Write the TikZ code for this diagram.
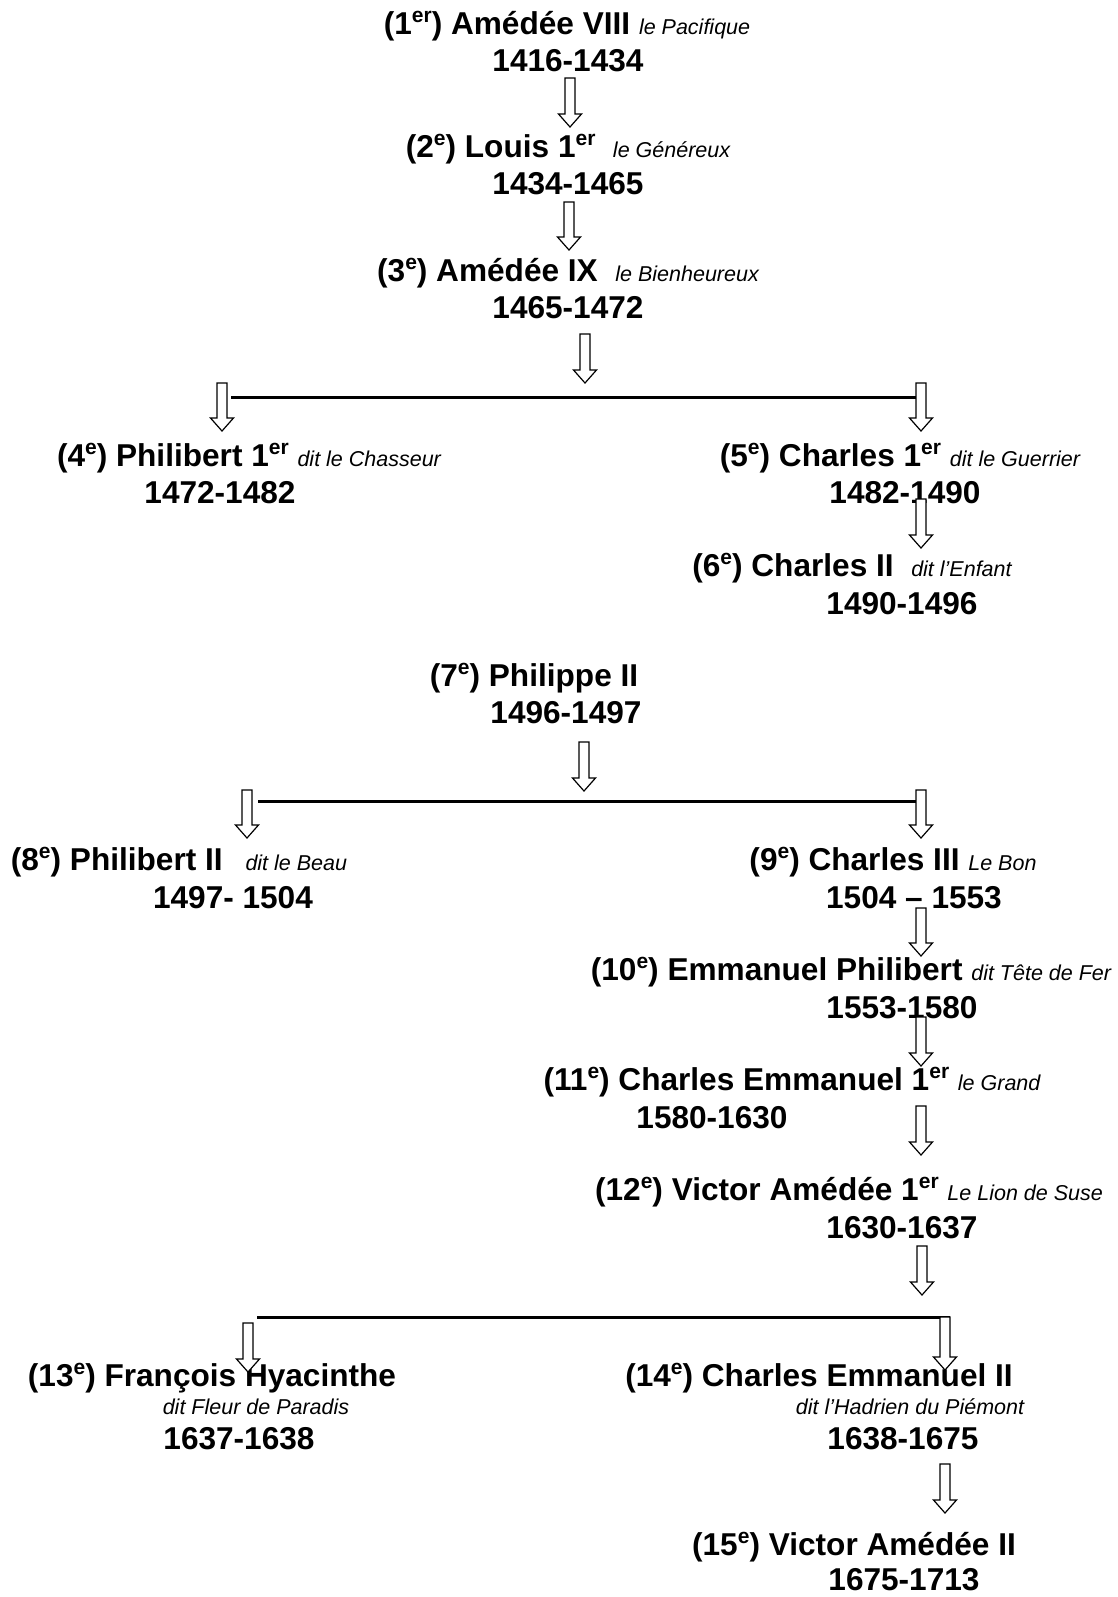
\documentclass[tikz,border=0pt]{standalone}
\usepackage{fontspec}
\setmainfont{Liberation Sans}

% superscript ordinals and the italic nicknames
\newcommand\ord[1]{\raisebox{6pt}{\fontsize{10.5}{12}\selectfont #1}}
\newcommand\surnom[1]{{\mdseries\itshape\fontsize{10.75}{12}\selectfont #1}}

% hollow block arrow from #1 down to #2
\newcommand\blockarrow[2]{%
  \draw[fleche] ([xshift=-2.5pt]#1) -- ([xshift=2.5pt]#1)
    -- ([xshift=2.5pt,yshift=6.5pt]#2) -- ([xshift=5.75pt,yshift=6.5pt]#2)
    -- (#2) -- ([xshift=-5.75pt,yshift=6.5pt]#2)
    -- ([xshift=-2.5pt,yshift=6.5pt]#2) -- cycle;}

\tikzset{
  roi/.style={font=\bfseries\fontsize{15.8}{18}\selectfont, anchor=base, inner sep=0pt},
  dit/.style={font=\itshape\fontsize{10.75}{12}\selectfont, anchor=base, inner sep=0pt},
  trait/.style={line width=1.5pt},
  fleche/.style={draw=black, fill=white, line width=0.6pt, line join=miter}
}

\begin{document}
\begin{tikzpicture}[x=0.5pt, y=-0.5pt]
  \useasboundingbox (0,0) rectangle (1118,1597);

  % Dukes: name line, then reign
  \node[roi] (r1) at (567,34) {(1\ord{er}) Amédée VIII \surnom{le Pacifique}};
  \node[roi] (d1) at (568,71) {1416-1434};
  \node[roi] (r2) at (568,157) {(2\ord{e}) Louis 1\ord{er}\ \ \surnom{le Généreux}};
  \node[roi] (d2) at (568,194) {1434-1465};
  \node[roi] (r3) at (568,281) {(3\ord{e}) Amédée IX\ \ \surnom{le Bienheureux}};
  \node[roi] (d3) at (568,318) {1465-1472};

  \node[roi] (r4) at (249,466) {(4\ord{e}) Philibert 1\ord{er} \surnom{dit le Chasseur}};
  \node[roi] (d4) at (220,503) {1472-1482};
  \node[roi] (r5) at (900,466) {(5\ord{e}) Charles 1\ord{er} \surnom{dit le Guerrier}};
  \node[roi] (d5) at (905,503) {1482-1490};
  \node[roi] (r6) at (852,576) {(6\ord{e}) Charles II\ \ \surnom{dit l’Enfant}};
  \node[roi] (d6) at (902,614) {1490-1496};

  \node[roi] (r7) at (534,686) {(7\ord{e}) Philippe II};
  \node[roi] (d7) at (566,723) {1496-1497};

  \node[roi] (r8) at (179,870) {(8\ord{e}) Philibert II\hspace{7pt} \surnom{dit le Beau}};
  \node[roi] (d8) at (233,908) {1497- 1504};
  \node[roi] (r9) at (893,870) {(9\ord{e}) Charles III \surnom{Le Bon}};
  \node[roi] (d9) at (914,908) {1504 – 1553};
  \node[roi] (r10) at (851,980) {(10\ord{e}) Emmanuel Philibert \surnom{dit Tête de Fer}};
  \node[roi] (d10) at (902,1018) {1553-1580};
  \node[roi] (r11) at (792,1090) {(11\ord{e}) Charles Emmanuel 1\ord{er} \surnom{le Grand}};
  \node[roi] (d11) at (712,1128) {1580-1630};
  \node[roi] (r12) at (849,1200) {(12\ord{e}) Victor Amédée 1\ord{er} \surnom{Le Lion de Suse}};
  \node[roi] (d12) at (902,1238) {1630-1637};

  \node[roi] (r13) at (212,1386) {(13\ord{e}) François Hyacinthe};
  \node[dit] (s13) at (256,1414) {dit Fleur de Paradis};
  \node[roi] (d13) at (239,1449) {1637-1638};
  \node[roi] (r14) at (819,1386) {(14\ord{e}) Charles Emmanuel II};
  \node[dit] (s14) at (910,1414) {dit l’Hadrien du Piémont};
  \node[roi] (d14) at (903,1449) {1638-1675};
  \node[roi] (r15) at (854,1555) {(15\ord{e}) Victor Amédée II};
  \node[roi] (d15) at (904,1590) {1675-1713};

  % Branching bars
  \coordinate (g1) at (231,397.5);
  \coordinate (h1) at (918,397.5);
  \coordinate (g2) at (258,801);
  \coordinate (h2) at (918,801);
  \coordinate (g3) at (257,1317);
  \coordinate (h3) at (950,1317);
  \foreach \k in {1,2,3}
    \draw[trait] (g\k) -- (h\k);

  % Arrows (drawn last, they cover the text a little)
  \foreach \k/\ax/\ya/\yb in {
    1/570/78/127, 2/569/202/250, 3/585/334/383,
    4/222/383/431, 5/921/383/431, 6/921/499/548,
    7/584/742/791, 8/247/790/838, 9/921/790/838,
    10/921/908/956, 11/921/1017/1066, 12/921/1106/1155,
    13/922/1246/1295, 14/248/1323/1372, 15/945/1317/1370,
    16/945/1464/1513
  } {
    \coordinate (a\k) at (\ax,\ya);
    \coordinate (b\k) at (\ax,\yb);
    \blockarrow{a\k}{b\k}
  }
\end{tikzpicture}
\end{document}
